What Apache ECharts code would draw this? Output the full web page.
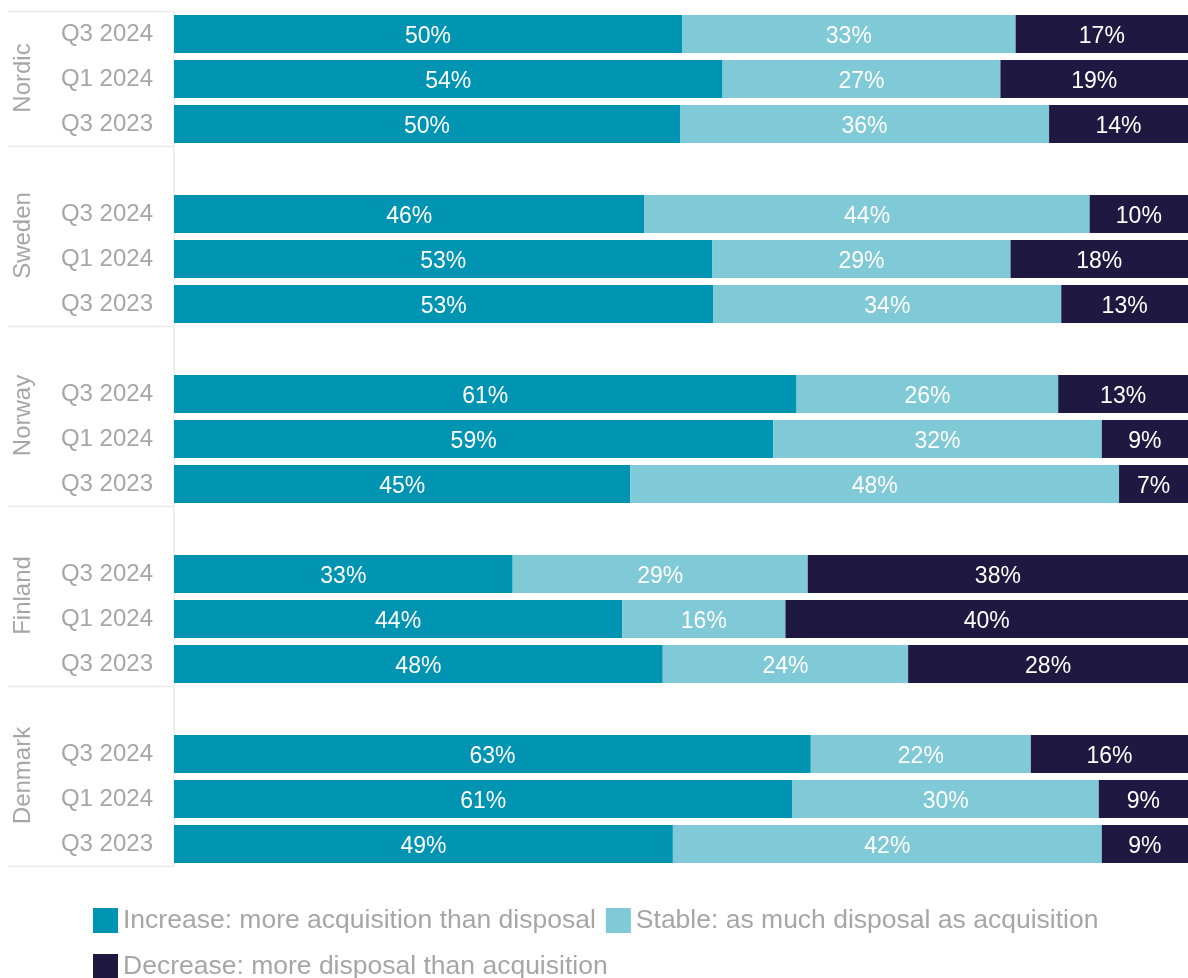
<!DOCTYPE html>
<html>
<head>
<meta charset="utf-8">
<script src="https://cdn.jsdelivr.net/npm/echarts@6/dist/echarts.min.js"></script>
<style>
html,body{margin:0;padding:0;background:#fff;}
#chart{width:1188px;height:978px;}
</style>
</head>
<body>
<div id="chart"></div>
<script>
// ---- data ----
var groups = ['Nordic', 'Sweden', 'Norway', 'Finland', 'Denmark'];
var periods = ['Q3 2024', 'Q1 2024', 'Q3 2023'];
var seriesNames = ['Increase: more acquisition than disposal', 'Stable: as much disposal as acquisition', 'Decrease: more disposal than acquisition'];
// values per group, in period order (Q3 2024, Q1 2024, Q3 2023)
var increase = [50.1, 54.1, 49.9,  46.4, 53.1, 53.2,  61.4, 59.1, 45.0,  33.4, 44.2, 48.2,  62.8, 61.0, 49.2];
var stable   = [32.9, 27.4, 36.4,  43.9, 29.4, 34.3,  25.8, 32.4, 48.2,  29.1, 16.1, 24.2,  21.7, 30.2, 42.3];
var decrease = [17.0, 18.5, 13.7,   9.7, 17.5, 12.5,  12.8,  8.5,  6.8,  37.5, 39.7, 27.6,  15.5,  8.8,  8.5];

var colors = ['#0094b3', '#80c9d6', '#1f1840'];
var grey = '#a6a6a6';
var fontFamily = '"Liberation Sans", Arial, sans-serif';

// build category rows (blank spacer row between groups)
var cats = [], rowIndex = [], groupRanges = [];
groups.forEach(function (g, gi) {
  var start = cats.length;
  if (gi > 0) cats.push('');
  periods.forEach(function (p, pi) {
    rowIndex.push(cats.length);
    cats.push(p);
  });
  groupRanges.push([start, cats.length - 1]);
});
function toRows(arr) {
  var out = cats.map(function () { return '-'; });
  arr.forEach(function (v, i) { out[rowIndex[i]] = v; });
  return out;
}
var seriesData = [increase, stable, decrease];

var chart = echarts.init(document.getElementById('chart'), null, {renderer: 'canvas'});
var option = {
  animation: false,
  textStyle: {fontFamily: fontFamily},
  grid: {left: 174, right: 0, top: 11.5, height: 855, containLabel: false},
  xAxis: {type: 'value', min: 0, max: 100, show: false},
  yAxis: {
    type: 'category', inverse: true, data: cats,
    axisLine: {show: true, lineStyle: {color: '#e8e8e8', width: 1.5}},
    axisTick: {show: false},
    splitLine: {show: false},
    axisLabel: {color: grey, fontSize: 24, margin: 21, fontFamily: fontFamily, padding: [5, 0, 0, 0]}
  },
  legend: {
    left: 93, top: 902.5, right: 10, padding: 0,
    itemWidth: 25, itemHeight: 25, itemGap: 10,
    icon: 'rect',
    textStyle: {color: grey, fontSize: 26.5, lineHeight: 36, fontFamily: fontFamily},
    data: seriesNames
  },
  series: seriesNames.map(function (name, si) {
    return {
      name: name, type: 'bar', stack: 'total', barWidth: 38,
      itemStyle: {color: colors[si]},
      label: {
        show: true, position: 'inside', color: '#ffffff', fontSize: 23, fontFamily: fontFamily,
        offset: [0, 3],
        formatter: function (p) { return Math.round(p.value) + '%'; }
      },
      data: toRows(seriesData[si])
    };
  })
};
chart.setOption(option);

// group labels and separators positioned from the category axis scale
function yPix(i) { return chart.convertToPixel({yAxisIndex: 0}, i); }
var half = (yPix(1) - yPix(0)) / 2;
var axisX = chart.convertToPixel({xAxisIndex: 0}, 0);
var graphics = [];
var boundaries = [yPix(0) - half];
groupRanges.forEach(function (r, gi) {
  var top = yPix(r[0]) - half, bottom = yPix(r[1]) + half;
  boundaries.push(bottom);
  graphics.push({
    type: 'text', x: 23, y: (top + bottom) / 2 - 1, rotation: Math.PI / 2,
    style: {text: groups[gi], fill: grey, fontSize: 24, fontFamily: fontFamily, align: 'center', verticalAlign: 'middle'}
  });
});
boundaries.forEach(function (b) {
  graphics.push({
    type: 'line', shape: {x1: 8, y1: b, x2: axisX - 1, y2: b},
    style: {stroke: '#e8e8e8', lineWidth: 1.5}
  });
});
chart.setOption({graphic: graphics});
</script>
</body>
</html>
